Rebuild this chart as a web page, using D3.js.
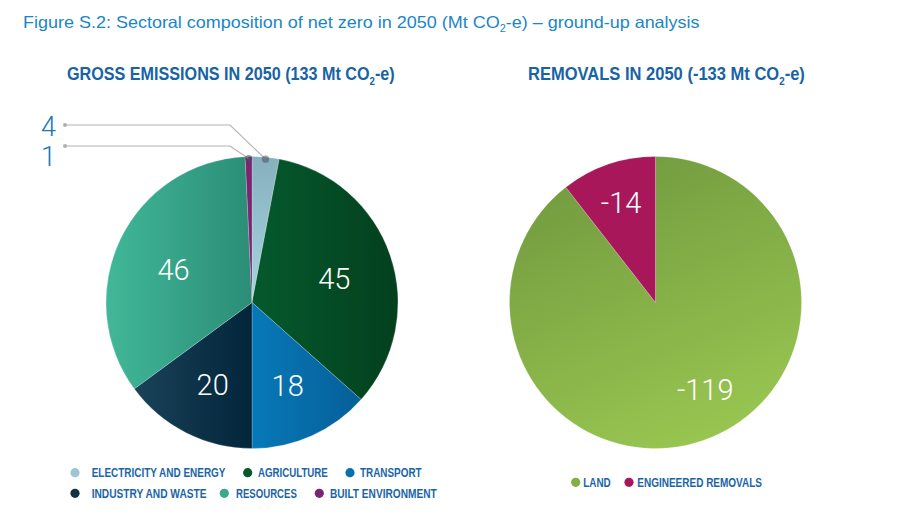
<!DOCTYPE html>
<html><head><meta charset="utf-8">
<script src="https://cdn.jsdelivr.net/npm/d3@7"></script>
<style>
html,body{margin:0;padding:0;background:#fff;}
svg{display:block;}
</style></head>
<body>
<svg id="chart" width="911" height="516"></svg>
<script>
// ---- data ----
const grossCategories = ["ELECTRICITY AND ENERGY","AGRICULTURE","TRANSPORT","INDUSTRY AND WASTE","RESOURCES","BUILT ENVIRONMENT"];
const grossValues = [4, 45, 18, 20, 46, 1];
const grossColorsA = ["#86b0be","#05592d","#0779b8","#1a4259","#41b898","#7b2570"];
const grossColorsB = ["#a8d4e0","#03401d","#065f98","#02253a","#2b8d77","#7b2570"];
const removalCategories = ["LAND","ENGINEERED REMOVALS"];
const removalValues = [-119, -14];
const removalColorsA = ["#729b3f","#a8175a"];
const removalColorsB = ["#99c751","#a8175a"];
const legendGrossColors = ["#9cc6d4","#05592d","#0771ad","#0f3047","#3aa88a","#7b2570"];
const legendRemovalColors = ["#82b043","#a8175a"];

const svg = d3.select("#chart");
const defs = svg.append("defs");

// squeeze a text horizontally so it spans targetW pixels, keeping its anchor x fixed
function fit(t, ax, targetW) {
  const w = t.node().getBBox().width;
  const k = targetW / w;
  t.attr("transform", `translate(${ax * (1 - k)},0) scale(${k},1)`);
}

// title
const title = svg.append("text").attr("x", 23).attr("y", 28)
  .attr("font-family", "Liberation Sans, Arial, sans-serif").attr("font-size", 16.5)
  .attr("fill", "#1a86c7");
title.append("tspan").text("Figure S.2: Sectoral composition of net zero in 2050 (Mt CO");
title.append("tspan").attr("font-size", 10).attr("dy", 4).text("2");
title.append("tspan").attr("dy", -4).text("-e) \u2013 ground-up analysis");
fit(title, 23, 677);

function heading(x, w, pre) {
  const t = svg.append("text").attr("x", x).attr("y", 80)
    .attr("font-family", "Liberation Sans, Arial, sans-serif")
    .attr("font-weight", "bold").attr("font-size", 18.5).attr("fill", "#1763a4");
  t.append("tspan").text(pre + " Mt CO");
  t.append("tspan").attr("font-size", 11).attr("dy", 5).text("2");
  t.append("tspan").attr("dy", -5).text("-e)");
  fit(t, x, w);
}
heading(67, 328, "GROSS EMISSIONS IN 2050 (133");
heading(528, 277, "REMOVALS IN 2050 (-133");

const R = 146;
const pie = d3.pie().sort(null).value(d => Math.abs(d));
const arc = d3.arc().innerRadius(0).outerRadius(R);

// ---- left pie ----
const cxL = 252, cyL = 302.5;
const gL = svg.append("g").attr("transform", `translate(${cxL},${cyL})`);
const arcsL = pie(grossValues);
arcsL.forEach((a, i) => {
  const lg = defs.append("linearGradient").attr("id", "gl" + i)
    .attr("x1", 0).attr("y1", 0).attr("x2", i === 0 ? 0 : 1).attr("y2", i === 0 ? 1 : 0);
  lg.append("stop").attr("offset", "0%").attr("stop-color", grossColorsA[i]);
  lg.append("stop").attr("offset", "100%").attr("stop-color", grossColorsB[i]);
});
gL.selectAll("path").data(arcsL).join("path")
  .attr("d", arc).attr("fill", (d, i) => `url(#gl${i})`)
  .attr("stroke", "rgba(255,255,255,0.35)").attr("stroke-width", 0.6);

const labelArcL = d3.arc().innerRadius(87).outerRadius(87);
gL.selectAll("text.lab").data(arcsL.filter(d => d.value >= 10)).join("text")
  .attr("class", "lab")
  .attr("transform", d => `translate(${labelArcL.centroid(d)})`)
  .attr("text-anchor", "middle").attr("dy", "0.5em")
  .attr("font-family", "Roboto, sans-serif").attr("font-weight", 300)
  .attr("font-size", 29).attr("fill", "#fff")
  .text(d => d.data);

// callouts for small slices
const small = arcsL.map((d, i) => ({d, i})).filter(o => o.d.value < 10);
const calloutY = { 0: 125, 5: 146 };
const calloutTextY = { 0: 136, 5: 166 };
small.forEach(o => {
  const mid = (o.d.startAngle + o.d.endAngle) / 2;
  const px = cxL + Math.sin(mid) * (R - 2);
  const py = cyL - Math.cos(mid) * (R - 2);
  const ly = calloutY[o.i];
  svg.append("polyline")
    .attr("points", `65,${ly} 230,${ly} ${px},${py}`)
    .attr("fill", "none").attr("stroke", "#b4b4b4").attr("stroke-width", 1.2);
  svg.append("circle").attr("cx", 65).attr("cy", ly).attr("r", 2).attr("fill", "#b0b0b0");
  svg.append("circle").attr("cx", px).attr("cy", py).attr("r", 3.6).attr("fill", "rgba(70,80,90,0.55)");
  svg.append("text").attr("x", 56).attr("y", calloutTextY[o.i]).attr("text-anchor", "end")
    .attr("font-family", "Roboto, sans-serif").attr("font-weight", 300)
    .attr("font-size", 27).attr("fill", "#1a78bb").text(o.d.data);
});

// ---- right pie ----
const cxR = 655.5, cyR = 302.5;
const gR = svg.append("g").attr("transform", `translate(${cxR},${cyR})`);
const arcsR = pie(removalValues);
arcsR.forEach((a, i) => {
  const lg = defs.append("linearGradient").attr("id", "gr" + i)
    .attr("x1", 0.3).attr("y1", 0).attr("x2", 0.7).attr("y2", 1);
  lg.append("stop").attr("offset", "0%").attr("stop-color", removalColorsA[i]);
  lg.append("stop").attr("offset", "100%").attr("stop-color", removalColorsB[i]);
});
gR.selectAll("path").data(arcsR).join("path")
  .attr("d", arc).attr("fill", (d, i) => `url(#gr${i})`)
  .attr("stroke", "rgba(255,255,255,0.3)").attr("stroke-width", 0.6);
const labelRadiusR = [100, 106];
const labelAngleShiftR = [-0.19, 0];
gR.selectAll("text.lab").data(arcsR).join("text")
  .attr("class", "lab")
  .attr("transform", (d, i) => {
    const a = (d.startAngle + d.endAngle) / 2 + labelAngleShiftR[i];
    return `translate(${Math.sin(a) * labelRadiusR[i]},${-Math.cos(a) * labelRadiusR[i]})`;
  })
  .attr("text-anchor", "middle").attr("dy", "0.38em")
  .attr("font-family", "Roboto, sans-serif").attr("font-weight", 300)
  .attr("font-size", 29).attr("fill", "#fff")
  .text(d => d.data);

// ---- legends ----
function legendItem(cx, cy, color, label, tx, tw) {
  svg.append("circle").attr("cx", cx).attr("cy", cy).attr("r", 4.6).attr("fill", color);
  const t = svg.append("text").attr("x", tx).attr("y", cy + 4.8)
    .attr("font-family", "Liberation Sans, Arial, sans-serif")
    .attr("font-weight", "bold").attr("font-size", 13.3).attr("fill", "#1a65a6")
    .text(label);
  fit(t, tx, tw);
}
const legXL = [75, 247.7, 350, 75, 224.3, 319.3];
const legYL = [472.7, 472.7, 472.7, 493.3, 493.3, 493.3];
const legTX = [91.7, 258, 360, 91.7, 236, 330];
const legTW = [134, 70, 61.7, 115, 61, 106.7];
grossCategories.forEach((c, i) => legendItem(legXL[i], legYL[i], legendGrossColors[i], c, legTX[i], legTW[i]));
const legXR = [575.7, 629];
const legTXR = [583.3, 637.3];
const legTWR = [27.7, 125];
removalCategories.forEach((c, i) => legendItem(legXR[i], 482.3, legendRemovalColors[i], c, legTXR[i], legTWR[i]));
</script>
</body></html>
